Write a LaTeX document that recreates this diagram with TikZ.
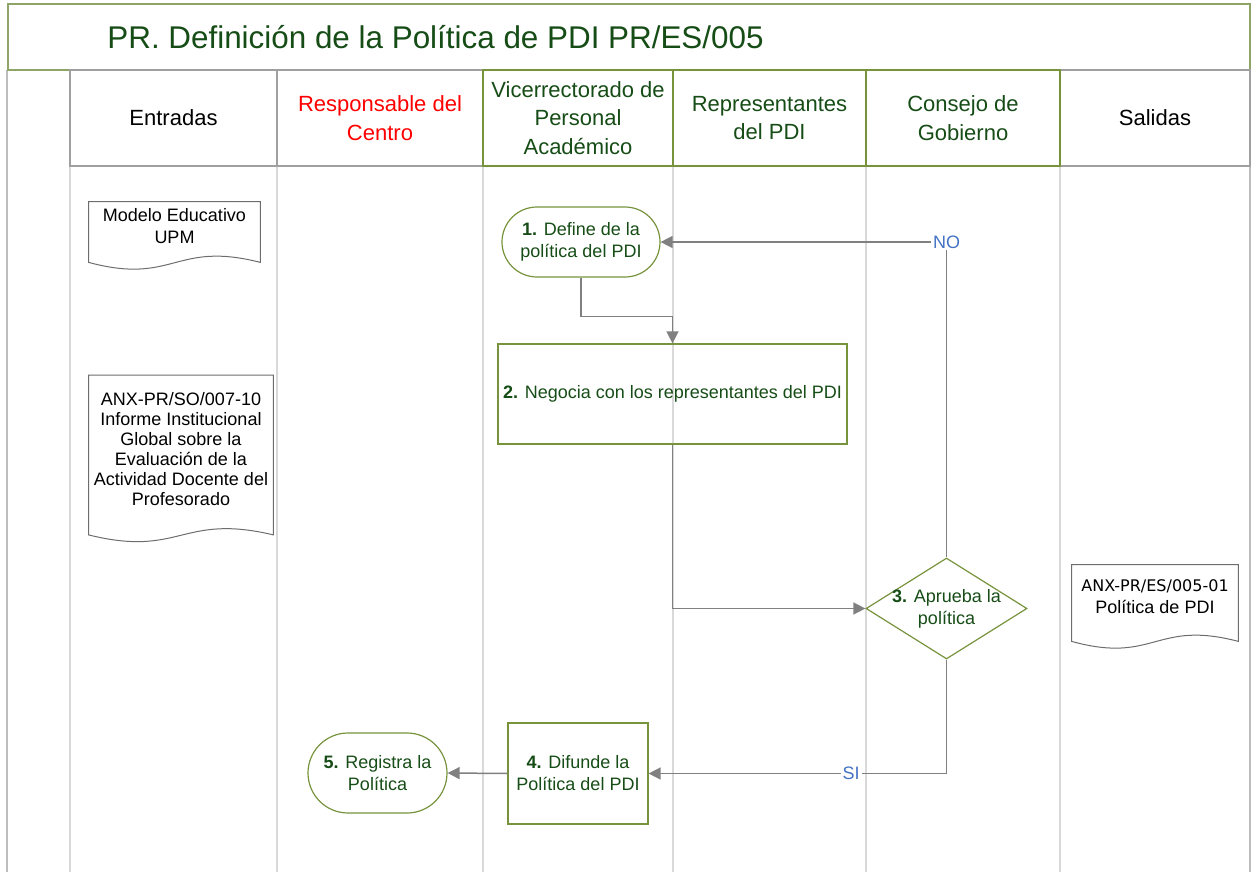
\documentclass[tikz,border=0pt]{standalone}
\usepackage{fontspec}
\setmainfont{Liberation Sans}
\newfontfamily\codefont{DejaVu Sans}
\usetikzlibrary{shapes.geometric}
\usetikzlibrary{shapes.misc}
\usetikzlibrary{arrows.meta}

\definecolor{pdiolive}{RGB}{119,147,60}
\definecolor{pdititle}{RGB}{143,164,104}
\definecolor{pdigreen}{RGB}{22,76,22}
\definecolor{pdigrey}{RGB}{128,128,128}
\definecolor{pdiframe}{RGB}{160,160,160}
\definecolor{pdilane}{RGB}{217,217,217}
\definecolor{pdiblue}{RGB}{68,114,196}

\newcommand{\docwave}[1]{%
  \draw[doc line] (#1.north west) -- (#1.north east) -- ([yshift=-6pt]#1.south east)
    .. controls ([yshift=5pt]#1.south) and ([yshift=-17.5pt]#1.south) .. ([yshift=-6pt]#1.south west) -- cycle;}

\begin{document}
\begin{tikzpicture}[
    x=0.5pt, y=-0.5pt,
    body/.style={font=\fontsize{9}{11}\selectfont},
    lane head/.style={draw=pdiframe, line width=0.6pt, minimum height=48pt, inner sep=0pt, align=center, font=\fontsize{11}{14.25}\selectfont},
    green head/.style={lane head, draw=pdiolive, text=pdigreen},
    task box/.style={body, draw=pdiolive, line width=0.6pt, text=pdigreen, align=center, inner sep=2pt},
    term box/.style={task box, rounded rectangle},
    decision box/.style={task box, diamond, aspect=1.6, inner sep=-1.5pt},
    doc node/.style={body, align=center, inner sep=0pt},
    doc line/.style={draw=pdigrey!85!black, line width=0.5pt},
    lane line/.style={draw=pdilane, line width=0.6pt},
    flow/.style={draw=pdigrey, line width=0.75pt, -{Triangle[length=6pt,width=6pt]}},
    flow label/.style={body, fill=white, text=pdiblue, inner sep=1pt},
    ]
  \useasboundingbox (0,0) rectangle (1254,872);

  \draw[lane line, draw=pdiframe!70] (7,70) -- (7,872);
  \draw[lane line, draw=pdiframe!70] (1250,166) -- (1250,872);
  \draw[lane line] (70,166) -- (70,872);
  \draw[lane line] (277,166) -- (277,872);
  \draw[lane line] (483,166) -- (483,872);
  \draw[lane line] (673,166) -- (673,872);
  \draw[lane line] (866,166) -- (866,872);
  \draw[lane line] (1060,166) -- (1060,872);

  \node[draw=pdititle, line width=1.2pt, minimum width=621pt, minimum height=33pt] (frame) at (629,37) {};
  \node[anchor=west, inner sep=0pt, text=pdigreen, font=\fontsize{15.7}{18}\selectfont] (title) at (107,37) {PR. Definición de la Política de PDI PR/ES/005};

  \node[lane head, minimum width=103.5pt] (h1) at (173.5,118) {Entradas};
  \node[lane head, minimum width=103pt, text=red] (h2) at (380,118) {Responsable del\\Centro};
  \node[lane head, minimum width=95pt] (h6) at (1155,118) {Salidas};
  \node[green head, minimum width=95pt] (h3) at (578,118) {Vicerrectorado de\\Personal\\Académico};
  \node[green head, minimum width=96.5pt] (h4) at (769.5,118) {Representantes\\del PDI};
  \node[green head, minimum width=97pt] (h5) at (963,118) {Consejo de\\Gobierno};

  \node[doc node, minimum width=85.5pt, minimum height=24pt] (e1) at (174.5,226) {Modelo Educativo\\UPM};
  \node[doc node, minimum width=92pt, minimum height=73.5pt, font=\fontsize{9}{10}\selectfont] (e2) at (181,449) {ANX-PR/SO/007-10\\Informe Institucional\\Global sobre la\\Evaluación de la\\Actividad Docente del\\Profesorado};
  \node[doc node, minimum width=83pt, minimum height=32pt] (s1) at (1155,597) {{\codefont\fontsize{8}{10}\selectfont ANX-PR/ES/005-01}\\Política de PDI};
  \docwave{e1}
  \docwave{e2}
  \docwave{s1}

  \node[term box, minimum width=83pt, minimum height=35pt] (1) at (581,242) {\textbf{1.} Define de la\\política del PDI};
  \node[task box, minimum width=174.5pt, minimum height=50pt] (2) at (672.5,394) {\textbf{2.} Negocia con los representantes del PDI};
  \node[decision box, minimum width=80.5pt, minimum height=50.5pt] (3) at (946.5,608.5) {\textbf{3.} Aprueba la\\política};
  \node[task box, minimum width=70pt, minimum height=50.5pt] (4) at (578,773.5) {\textbf{4.} Difunde la\\Política del PDI};
  \node[term box, minimum width=73.5pt, minimum height=40pt] (5) at (377.5,773) {\textbf{5.} Registra la\\Política};

  \draw[flow] (1.south) -- ++(0,39) -| (2.north);
  \draw[flow] (2.south) |- (3.west);
  \draw[flow] (3.north) |- (1.east) node[flow label, pos=0.5] {NO};
  \draw[flow] (3.south) |- (4.east) node[flow label, pos=0.66] {SI};
  \draw[flow] (4.west) -- (5.east);
\end{tikzpicture}
\end{document}
